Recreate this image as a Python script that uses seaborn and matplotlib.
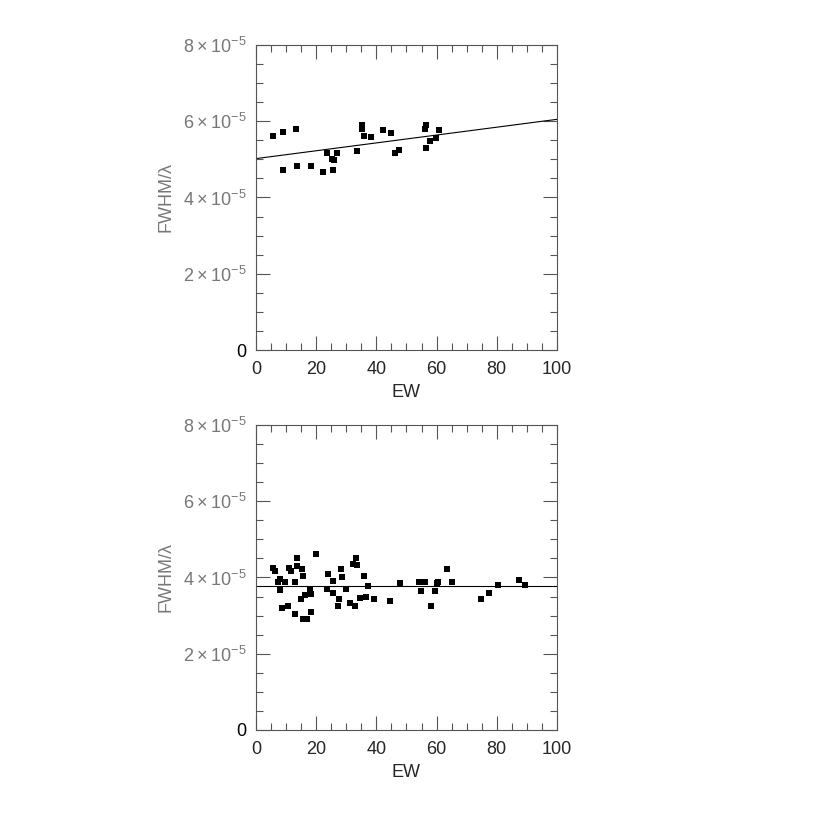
import matplotlib
matplotlib.use('Agg')
import matplotlib.pyplot as plt
import pandas as pd
import seaborn as sns
from matplotlib.ticker import MultipleLocator

# top panel data
ew_top = [5.5, 8.9, 13.3, 9.0, 13.5, 18.2, 22.4, 23.5, 25.7, 25.4, 26.0, 26.8,
          33.6, 35.2, 35.3, 35.8, 38.1, 42.3, 44.7, 46.1, 47.4, 56.0, 56.4,
          56.5, 57.8, 59.7, 60.7]
fw_top = [5.62, 5.71, 5.79, 4.71, 4.82, 4.82, 4.66, 5.16, 4.72, 5.02, 4.99, 5.16,
          5.23, 5.89, 5.80, 5.62, 5.58, 5.77, 5.69, 5.16, 5.25, 5.79, 5.90,
          5.31, 5.49, 5.55, 5.77]

# bottom panel data
ew_bot = [5.8, 6.4, 7.2, 8.0, 7.9, 9.5, 8.8, 10.6, 11.1, 11.6, 13.5, 13.7, 13.0,
          12.8, 15.3, 15.7, 15.0, 16.3, 15.6, 17.0, 17.9, 18.2, 18.4, 20.1, 23.5,
          23.9, 25.5, 25.7, 27.1, 27.6, 28.2, 28.7, 30.0, 31.2, 32.8, 32.3, 33.3,
          33.6, 34.7, 36.0, 36.6, 37.2, 39.3, 44.6, 47.8, 54.3, 54.7, 56.3, 58.1,
          59.4, 60.0, 60.6, 63.4, 65.1, 74.6, 77.5, 80.5, 87.3, 89.2]
fw_bot = [4.24, 4.18, 3.89, 3.95, 3.67, 3.88, 3.21, 3.25, 4.24, 4.18, 4.30, 4.50, 3.88,
          3.04, 4.23, 4.04, 3.43, 3.54, 2.92, 2.92, 3.67, 3.57, 3.09, 4.61, 3.70,
          4.10, 3.60, 3.91, 3.25, 3.44, 4.23, 4.01, 3.69, 3.33, 3.25, 4.36, 4.50,
          4.32, 3.47, 4.04, 3.48, 3.77, 3.44, 3.39, 3.86, 3.87, 3.64, 3.88, 3.26,
          3.64, 3.85, 3.88, 4.21, 3.88, 3.44, 3.60, 3.80, 3.93, 3.79]

# fitted lines
fit_x = [0, 100]
fit_top = [5.02, 6.05]
fit_bot = [3.77, 3.77]

ytick_vals = [0, 2e-5, 4e-5, 6e-5, 8e-5]
ytick_labels = ['0', r'$2\times10^{-5}$', r'$4\times10^{-5}$', r'$6\times10^{-5}$', r'$8\times10^{-5}$']

sns.set_style('ticks')
plt.rcParams['font.family'] = ['Liberation Sans', 'DejaVu Sans']
plt.rcParams['mathtext.fontset'] = 'custom'
plt.rcParams['mathtext.rm'] = 'Liberation Sans'

fig = plt.figure(figsize=(8.3, 8.3), dpi=100)
ax1 = fig.add_axes([0.3084, 0.5783, 0.3627, 0.3675])
ax2 = fig.add_axes([0.3084, 0.1205, 0.3627, 0.3675])

panels = [(ax1, ew_top, fw_top, fit_top), (ax2, ew_bot, fw_bot, fit_bot)]
for ax, ew, fw, fit in panels:
    df = pd.DataFrame({'EW': ew, 'FWHM': [v * 1e-5 for v in fw]})
    sns.scatterplot(data=df, x='EW', y='FWHM', marker='s', color='black',
                    s=22, linewidth=0, ax=ax)
    fit_df = pd.DataFrame({'EW': fit_x, 'FWHM': [v * 1e-5 for v in fit]})
    sns.lineplot(data=fit_df, x='EW', y='FWHM', color='black', lw=0.8, ax=ax)
    ax.set_xlim(0, 100)
    ax.set_ylim(0, 8e-5)
    ax.set_xticks([0, 20, 40, 60, 80, 100])
    ax.xaxis.set_minor_locator(MultipleLocator(5))
    ax.set_yticks(ytick_vals)
    ax.set_yticklabels(ytick_labels)
    ax.yaxis.set_minor_locator(MultipleLocator(0.5e-5))
    ax.tick_params(which='both', direction='in', top=True, right=True,
                   color='#555555', width=0.8)
    ax.tick_params(which='major', length=10)
    ax.tick_params(which='minor', length=5)
    ax.tick_params(axis='x', labelsize=13, pad=8)
    ax.tick_params(axis='y', labelsize=13, labelcolor='#777777', pad=7)
    ax.get_yticklabels()[0].set_color('black')
    ax.get_yticklabels()[0].set_fontsize(13)
    for sp in ax.spines.values():
        sp.set_color('#555555')
        sp.set_linewidth(0.8)
    ax.set_xlabel('EW', fontsize=13, labelpad=4)
    ax.set_ylabel('FWHM/λ', fontsize=13, color='#777777', labelpad=6)

fig.savefig('out.png', dpi=100)
